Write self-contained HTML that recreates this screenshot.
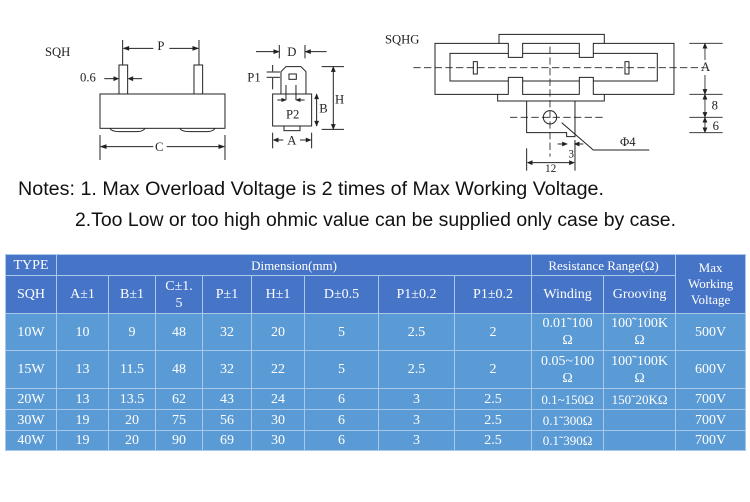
<!DOCTYPE html>
<html><head><meta charset="utf-8"><style>
body{margin:0;background:#fff;width:750px;height:502px;overflow:hidden;position:relative;font-family:"Liberation Serif","Noto Serif CJK SC",serif}
svg{position:absolute;left:0;top:0}
table{position:absolute;left:5px;top:254px;border-collapse:collapse;table-layout:fixed;width:740px;color:#fff}
td{border:1px solid #a9c8ea;text-align:center;padding:0;font-size:14px;line-height:17px;overflow:hidden}
tr.h td{background:#4674c6}
tr.b td{background:#5b9bd5}
</style></head><body>
<svg width="750" height="250" viewBox="0 0 750 250" font-family="Liberation Serif, serif" fill="none" stroke="#222" stroke-width="3">
<g transform="scale(0.3333)">
<text x="135" y="168" font-size="38" fill="#222" stroke="none">SQH</text>
<line x1="368" y1="120" x2="368" y2="195"/><line x1="597" y1="120" x2="597" y2="195"/>
<line x1="372" y1="145" x2="460" y2="145"/><line x1="508" y1="145" x2="593" y2="145"/>
<path d="M372,145 l14,-5 v10z M593,145 l-14,-5 v10z" fill="#222"/>
<text x="472" y="150" font-size="38" fill="#222" stroke="none">P</text>
<rect x="357" y="195" width="26" height="87"/><rect x="582" y="195" width="26" height="87"/>
<rect x="300" y="282" width="375" height="103"/>
<path d="M330,385 q5,10 30,10 h50 q20,0 25,-10 M540,385 q5,10 30,10 h50 q20,0 25,-10"/>
<text x="240" y="245" font-size="38" fill="#222" stroke="none">0.6</text>
<line x1="313" y1="236" x2="352" y2="236"/><line x1="388" y1="236" x2="426" y2="236"/>
<path d="M354,236 l-12,-5 v10z M386,236 l12,-5 v10z" fill="#222"/>
<line x1="300" y1="405" x2="300" y2="480"/><line x1="675" y1="405" x2="675" y2="480"/>
<line x1="304" y1="440" x2="460" y2="440"/><line x1="500" y1="440" x2="671" y2="440"/>
<path d="M304,440 l14,-5 v10z M671,440 l-14,-5 v10z" fill="#222"/>
<text x="465" y="453" font-size="38" fill="#222" stroke="none">C</text>
<line x1="838" y1="135" x2="838" y2="175"/><line x1="915" y1="135" x2="915" y2="175"/>
<line x1="768" y1="155" x2="834" y2="155"/><line x1="919" y1="155" x2="980" y2="155"/>
<path d="M836,155 l-14,-5 v10z M917,155 l14,-5 v10z" fill="#222"/>
<text x="862" y="168" font-size="38" fill="#222" stroke="none">D</text>
<path d="M843,282 V215 l15,-15 h45 l15,15 V282"/>
<rect x="867" y="222" width="22" height="16"/>
<line x1="858" y1="255" x2="858" y2="300"/><line x1="888" y1="255" x2="888" y2="300"/>
<line x1="832" y1="300" x2="855" y2="300"/><line x1="891" y1="300" x2="914" y2="300"/>
<path d="M856,300 l-10,-4 v8z M890,300 l10,-4 v8z" fill="#222"/>
<rect x="818" y="282" width="117" height="96"/><rect x="852" y="378" width="48" height="14"/>
<text x="858" y="355" font-size="38" fill="#222" stroke="none">P2</text>
<text x="742" y="245" font-size="38" fill="#222" stroke="none">P1</text>
<line x1="800" y1="216" x2="840" y2="216"/><line x1="800" y1="232" x2="840" y2="232"/>
<line x1="818" y1="195" x2="818" y2="214"/><line x1="818" y1="234" x2="818" y2="268"/>
<line x1="950" y1="282" x2="950" y2="378"/>
<path d="M950,284 l-5,12 h10z M950,376 l-5,-12 h10z" fill="#222"/>
<text x="958" y="338" font-size="38" fill="#222" stroke="none">B</text>
<line x1="965" y1="200" x2="1032" y2="200"/><line x1="965" y1="388" x2="1032" y2="388"/>
<line x1="1000" y1="202" x2="1000" y2="386"/>
<path d="M1000,202 l-5,12 h10z M1000,386 l-5,-12 h10z" fill="#222"/>
<text x="1005" y="310" font-size="38" fill="#222" stroke="none">H</text>
<line x1="818" y1="398" x2="818" y2="445"/><line x1="935" y1="398" x2="935" y2="445"/>
<line x1="822" y1="420" x2="850" y2="420"/><line x1="900" y1="420" x2="931" y2="420"/>
<path d="M822,420 l12,-5 v10z M931,420 l-12,-5 v10z" fill="#222"/>
<text x="862" y="433" font-size="38" fill="#222" stroke="none">A</text>
</g>
<g transform="translate(370,0) scale(0.3333)">
<text x="45" y="130" font-size="38" fill="#222" stroke="none">SQHG</text>
<polyline points="387,130 387,103 703,103 703,130"/>
<path d="M195,130 H415 V172 H458 V130 H628 V172 H670 V130 H912 V283 H670 V232 H628 V283 H458 V232 H415 V283 H195Z"/>
<path d="M415,160 H240 V243 H415 M458,160 H628 M670,160 H862 V243 H670 M458,243 H628"/>
<polyline points="383,283 383,303 703,303 703,283"/>
<path d="M470,303 V398 H590 V410 H615 V303"/>
<rect x="310" y="185" width="12" height="37"/><rect x="765" y="185" width="12" height="37"/>
<circle cx="540" cy="352" r="20"/>
<g stroke-dasharray="22,10" stroke-width="2.5">
<line x1="130" y1="203" x2="1000" y2="203"/><line x1="540" y1="140" x2="540" y2="470"/>
<line x1="420" y1="352" x2="700" y2="352"/></g>
<polyline points="575,368 670,450 838,450"/>
<text x="750" y="438" font-size="38" fill="#222" stroke="none">Φ4</text>
<g stroke-width="2.5"><line x1="958" y1="130" x2="1058" y2="130"/><line x1="958" y1="283" x2="1058" y2="283"/>
<line x1="958" y1="352" x2="1058" y2="352"/><line x1="958" y1="398" x2="1058" y2="398"/>
<line x1="1005" y1="132" x2="1005" y2="180"/><line x1="1005" y1="225" x2="1005" y2="396"/></g>
<path d="M1005,132 l-5,12 h10z M1005,281 l-5,-12 h10z M1005,285 l-5,12 h10z M1005,350 l-5,-12 h10z M1005,354 l-5,12 h10z M1005,396 l-5,-12 h10z" fill="#222"/>
<text x="993" y="213" font-size="38" fill="#222" stroke="none">A</text>
<text x="1025" y="328" font-size="38" fill="#222" stroke="none">8</text>
<text x="1028" y="390" font-size="38" fill="#222" stroke="none">6</text>
<line x1="563" y1="432" x2="588" y2="432"/><line x1="617" y1="432" x2="640" y2="432"/>
<path d="M590,432 l-12,-5 v10z M615,432 l12,-5 v10z" fill="#222"/>
<text x="595" y="472" font-size="34" fill="#222" stroke="none">3</text>
<line x1="470" y1="445" x2="470" y2="512"/><line x1="615" y1="420" x2="615" y2="512"/>
<line x1="474" y1="488" x2="611" y2="488"/>
<path d="M474,488 l12,-5 v10z M611,488 l-12,-5 v10z" fill="#222"/>
<text x="525" y="516" font-size="34" fill="#222" stroke="none">12</text>
</g>
<g font-family="Liberation Sans Narrow, Liberation Sans, sans-serif" font-size="19" fill="#111" stroke="none">
<text x="18" y="195" textLength="586" lengthAdjust="spacingAndGlyphs">Notes: 1.  Max Overload Voltage is 2 times of Max Working Voltage.</text>
<text x="75" y="226" textLength="601" lengthAdjust="spacingAndGlyphs">2.Too Low or too high ohmic value can be supplied only case by case.</text>
</g>
</svg>
<table>
<colgroup><col style="width:51px"><col style="width:52px"><col style="width:47px"><col style="width:47px"><col style="width:49px"><col style="width:53px"><col style="width:74px"><col style="width:76px"><col style="width:77px"><col style="width:72px"><col style="width:72px"><col style="width:70px"></colgroup>
<tr class="h" style="height:21px"><td>TYPE</td><td colspan="8" style="font-size:13px">Dimension(mm)</td><td colspan="2" style="font-size:13px">Resistance Range(Ω)</td><td rowspan="2" style="font-size:13px;line-height:16px">Max<br>Working<br>Voltage</td></tr>
<tr class="h" style="height:38px"><td>SQH</td><td>A±1</td><td>B±1</td><td>C±1.<br>5</td><td>P±1</td><td>H±1</td><td>D±0.5</td><td>P1±0.2</td><td>P1±0.2</td><td>Winding</td><td>Grooving</td></tr>
<tr class="b" style="height:37px"><td>10W</td><td>10</td><td>9</td><td>48</td><td>32</td><td>20</td><td>5</td><td>2.5</td><td>2</td><td>0.01˜100<br>Ω</td><td>100˜100K<br>Ω</td><td>500V</td></tr>
<tr class="b" style="height:38px"><td>15W</td><td>13</td><td>11.5</td><td>48</td><td>32</td><td>22</td><td>5</td><td>2.5</td><td>2</td><td>0.05~100<br>Ω</td><td>100˜100K<br>Ω</td><td>600V</td></tr>
<tr class="b" style="height:21px"><td>20W</td><td>13</td><td>13.5</td><td>62</td><td>43</td><td>24</td><td>6</td><td>3</td><td>2.5</td><td style="font-size:13px">0.1~150Ω</td><td style="font-size:13px">150˜20KΩ</td><td>700V</td></tr>
<tr class="b" style="height:21px"><td>30W</td><td>19</td><td>20</td><td>75</td><td>56</td><td>30</td><td>6</td><td>3</td><td>2.5</td><td style="font-size:13px">0.1˜300Ω</td><td></td><td>700V</td></tr>
<tr class="b" style="height:20px"><td>40W</td><td>19</td><td>20</td><td>90</td><td>69</td><td>30</td><td>6</td><td>3</td><td>2.5</td><td style="font-size:13px">0.1˜390Ω</td><td></td><td>700V</td></tr>
</table>
</body></html>
